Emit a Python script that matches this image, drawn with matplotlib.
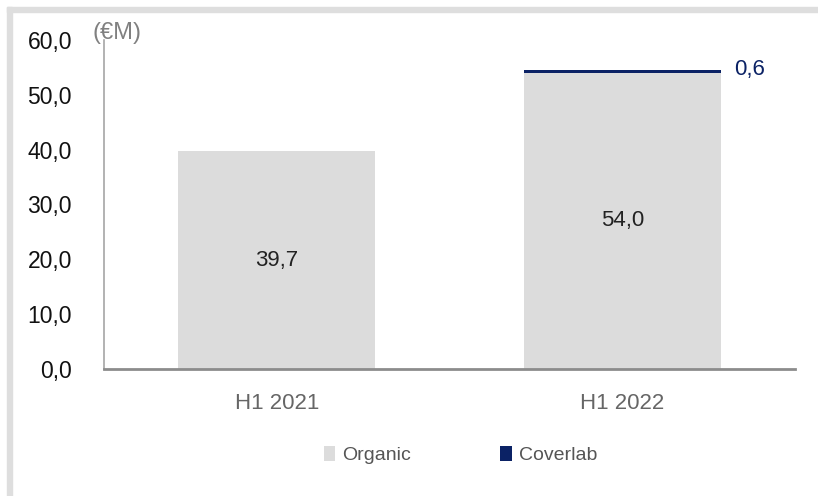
import matplotlib.pyplot as plt
from matplotlib.patches import Rectangle

plt.rcParams['font.family'] = ['Liberation Sans', 'DejaVu Sans']

periods = ['H1 2021', 'H1 2022']
organic = [39.7, 54.0]
coverlab = [0.0, 0.6]
organic_labels = ['39,7', '54,0']
coverlab_label = '0,6'
yticks = [0, 10, 20, 30, 40, 50, 60]

gray = '#dcdcdc'
navy = '#0b2265'

fig = plt.figure(figsize=(8.18, 4.96), dpi=100)
W, H = 818, 496

# light frame along the top and left edges
fig.patches.append(Rectangle((7 / W, 0), 5 / W, (H - 7) / H, transform=fig.transFigure,
                             color='#dedede', zorder=0))
fig.patches.append(Rectangle((7 / W, (H - 12) / H), (W - 7) / W, 5 / H, transform=fig.transFigure,
                             color='#dedede', zorder=0))

ax = fig.add_axes([104 / W, (H - 369) / H, (795 - 104) / W, (369 - 40) / H])

x = range(len(periods))
ax.bar(x, organic, width=0.57, color=gray, linewidth=0, label='Organic')
ax.bar(x, coverlab, width=0.57, bottom=organic, color=navy, linewidth=0, label='Coverlab')

for i, (v, lab) in enumerate(zip(organic, organic_labels)):
    ax.text(i, v / 2, lab, ha='center', va='center', fontsize=16, color='#222222')
ax.text(1 + 0.57 / 2 + 0.04, organic[1] + coverlab[1], coverlab_label, ha='left', va='center',
        fontsize=16, color=navy)

ax.set_xlim(-0.5, 1.5)
ax.set_ylim(0, 60)
ax.set_yticks(yticks)
ax.set_yticklabels([f'{t:.1f}'.replace('.', ',') for t in yticks], fontsize=16.5, color='#111111')
ax.set_xticks(list(x))
ax.set_xticklabels(periods, fontsize=16, color='#666666')
ax.tick_params(axis='y', length=0, pad=23)
ax.tick_params(axis='x', length=0, pad=17)

for s in ['top', 'right']:
    ax.spines[s].set_visible(False)
ax.spines['left'].set_color('#a6a6a6')
ax.spines['left'].set_linewidth(1.2)
ax.spines['bottom'].set_color('#8c8c8c')
ax.spines['bottom'].set_linewidth(2)

fig.text(92 / W, (H - 33) / H, '(€M)', fontsize=17, color='#808080', ha='left', va='center')

ax.legend(loc='center', bbox_to_anchor=(0.516, (H - 455 - (H - 369)) / (369 - 40)),
          ncol=2, frameon=False, fontsize=14, handlelength=0.6, handleheight=0.8,
          handletextpad=0.35, columnspacing=4.6, labelcolor='#555555',
          bbox_transform=ax.transAxes)

fig.savefig('out.png', dpi=100)
